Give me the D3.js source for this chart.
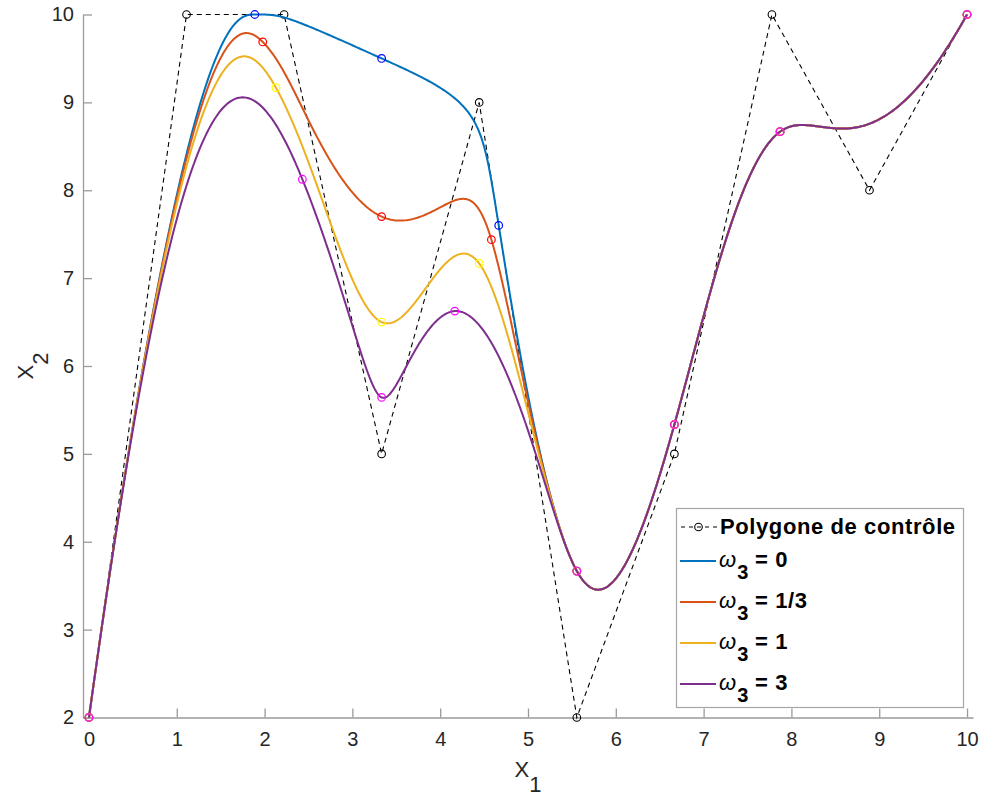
<!DOCTYPE html>
<html><head><meta charset="utf-8">
<script src="https://cdn.jsdelivr.net/npm/d3@7"></script>
<style>
body{margin:0;background:#fff;}
svg{display:block;}
text{font-family:Arial,"Liberation Sans",Helvetica,sans-serif;}
</style>
</head><body>
<svg id="chart" width="983" height="796"></svg>
<script>
// ---- data ----
const ctrlX = [0, 1.111, 2.222, 3.333, 4.444, 5.556, 6.667, 7.778, 8.889, 10];
const ctrlY = [2, 10, 10, 5, 9, 2, 5, 10, 8, 10];
const knotVector = [0, 0, 0, 0, 1/7, 2/7, 3/7, 4/7, 5/7, 6/7, 1, 1, 1, 1];
const knotValues = [0, 1/7, 2/7, 3/7, 4/7, 5/7, 6/7, 1];
const degree = 3;
const weightIndex = 3;
const w3Values = [0, 1/3, 1, 3];
const w3Labels = ["0", "1/3", "1", "3"];
const polygonLabel = "Polygone de contrôle";
const xTicks = [0, 1, 2, 3, 4, 5, 6, 7, 8, 9, 10];
const yTicks = [2, 3, 4, 5, 6, 7, 8, 9, 10];
const lineColors = ["#0072BD", "#D95319", "#EDB120", "#7E2F8E"];
const markerColors = ["#0000FF", "#FF0000", "#FFFF00", "#FF00FF"];

// ---- NURBS helpers ----
function findSpan(u) {
  const n = ctrlX.length - 1;
  if (u >= knotVector[n + 1]) return n;
  for (let i = degree; i <= n; i++) if (u >= knotVector[i] && u < knotVector[i + 1]) return i;
  return n;
}
function basisFuns(i, u) {
  const N = [1], left = [], right = [];
  for (let j = 1; j <= degree; j++) {
    left[j] = u - knotVector[i + 1 - j];
    right[j] = knotVector[i + j] - u;
    let saved = 0;
    for (let r = 0; r < j; r++) {
      const temp = N[r] / (right[r + 1] + left[j - r]);
      N[r] = saved + right[r + 1] * temp;
      saved = left[j - r] * temp;
    }
    N[j] = saved;
  }
  return N;
}
function nurbsPoint(px, py, w, u) {
  const s = findSpan(u), N = basisFuns(s, u);
  let X = 0, Y = 0, W = 0;
  for (let j = 0; j <= degree; j++) {
    const k = s - degree + j, c = N[j] * w[k];
    X += c * px[k]; Y += c * py[k]; W += c;
  }
  return [X / W, Y / W];
}
function weightsFor(w3) { return ctrlX.map((_, i) => i === weightIndex ? w3 : 1); }
// custom d3 curve: rational B-spline drawn from the control points
function curveNurbs(weights) {
  return function(context) {
    let xs, ys;
    return {
      areaStart() {}, areaEnd() {},
      lineStart() { xs = []; ys = []; },
      point(x, y) { xs.push(+x); ys.push(+y); },
      lineEnd() {
        const steps = 800;
        for (let s = 0; s <= steps; s++) {
          const [x, y] = nurbsPoint(xs, ys, weights, s / steps);
          if (s === 0) context.moveTo(x, y); else context.lineTo(x, y);
        }
      }
    };
  };
}

// ---- layout ----
const svg = d3.select("#chart");
const x = d3.scaleLinear().domain([-0.068, 10.068]).range([83, 973]);
const y = d3.scaleLinear().domain([2, 10]).range([717.5, 14.5]);
const axisColor = "#9a9a9a", labelColor = "#262626";
const ctrl = ctrlX.map((v, i) => [v, ctrlY[i]]);

// axes
const xAxis = d3.axisBottom(x).tickValues(xTicks).tickSizeInner(-9).tickSizeOuter(0).tickPadding(14);
const gx = svg.append("g").attr("transform", "translate(0,717.5)").call(xAxis);
const yAxis = d3.axisLeft(y).tickValues(yTicks).tickSizeInner(-9).tickSizeOuter(0).tickPadding(9);
const gy = svg.append("g").attr("transform", "translate(83,0)").call(yAxis);
[gx, gy].forEach(g => {
  g.select(".domain").attr("stroke", axisColor).attr("stroke-width", 1.3);
  g.selectAll(".tick line").attr("stroke", axisColor).attr("stroke-width", 1.3);
  g.selectAll(".tick text").attr("fill", labelColor).attr("font-size", 20)
    .attr("font-family", "Arial, 'Liberation Sans', Helvetica, sans-serif");
});
gx.selectAll(".tick text").attr("dy", "0.71em");

// axis labels
const xl = svg.append("text").attr("x", 528).attr("y", 777).attr("text-anchor", "middle")
  .attr("font-size", 22).attr("fill", labelColor);
xl.append("tspan").text("X");
xl.append("tspan").attr("dy", 15).text("1");
const yl = svg.append("text").attr("transform", "translate(33,366) rotate(-90)").attr("text-anchor", "middle")
  .attr("font-size", 22).attr("fill", labelColor);
yl.append("tspan").text("X");
yl.append("tspan").attr("dy", 15).text("2");

// control polygon
const plain = d3.line().x(d => x(d[0])).y(d => y(d[1]));
svg.append("path").attr("d", plain(ctrl)).attr("fill", "none").attr("stroke", "#000")
  .attr("stroke-width", 1.1).attr("stroke-dasharray", "5,4");
svg.append("g").selectAll("circle").data(ctrl).join("circle")
  .attr("cx", d => x(d[0])).attr("cy", d => y(d[1])).attr("r", 3.8)
  .attr("fill", "none").attr("stroke", "#000").attr("stroke-width", 1.1);

// curves
w3Values.forEach((w3, k) => {
  const wts = weightsFor(w3);
  const ln = d3.line().x(d => x(d[0])).y(d => y(d[1])).curve(curveNurbs(wts));
  svg.append("path").attr("d", ln(ctrl)).attr("fill", "none")
    .attr("stroke", lineColors[k]).attr("stroke-width", 2);
});
// knot markers
w3Values.forEach((w3, k) => {
  const wts = weightsFor(w3);
  const pts = knotValues.map(u => nurbsPoint(ctrlX, ctrlY, wts, u));
  svg.append("g").selectAll("circle").data(pts).join("circle")
    .attr("cx", d => x(d[0])).attr("cy", d => y(d[1])).attr("r", 3.8)
    .attr("fill", "none").attr("stroke", markerColors[k]).attr("stroke-width", 1.2);
});

// legend
const lg = svg.append("g");
lg.append("rect").attr("x", 676.5).attr("y", 508.5).attr("width", 287).attr("height", 199)
  .attr("fill", "#fff").attr("stroke", "#a6a6a6").attr("stroke-width", 1.2);
const rowBase = [534, 567, 608, 649, 690];
// polygon entry
lg.append("line").attr("x1", 680).attr("x2", 717).attr("y1", rowBase[0] - 7).attr("y2", rowBase[0] - 7)
  .attr("stroke", "#000").attr("stroke-width", 1.1).attr("stroke-dasharray", "4,4").attr("stroke-dashoffset", -1);
lg.append("circle").attr("cx", 698.5).attr("cy", rowBase[0] - 7).attr("r", 3.8)
  .attr("fill", "none").attr("stroke", "#000").attr("stroke-width", 1.1);
lg.append("text").attr("x", 720).attr("y", rowBase[0]).attr("font-size", 22).attr("font-weight", "bold")
  .attr("letter-spacing", 0.6).attr("fill", "#000").text(polygonLabel);
w3Labels.forEach((lab, k) => {
  const b = rowBase[k + 1];
  lg.append("line").attr("x1", 680).attr("x2", 716).attr("y1", b - 6).attr("y2", b - 6)
    .attr("stroke", lineColors[k]).attr("stroke-width", 2);
  const t = lg.append("text").attr("x", 719).attr("y", b).attr("font-size", 22).attr("fill", "#000");
  t.append("tspan").attr("font-style", "italic").text("ω");
  t.append("tspan").attr("dy", 12).attr("dx", 1).attr("font-weight", "bold").attr("font-size", 20).text("3");
  t.append("tspan").attr("dy", -12).attr("font-weight", "bold").attr("letter-spacing", 0.6).text(" = " + lab);
});
</script>
</body></html>
